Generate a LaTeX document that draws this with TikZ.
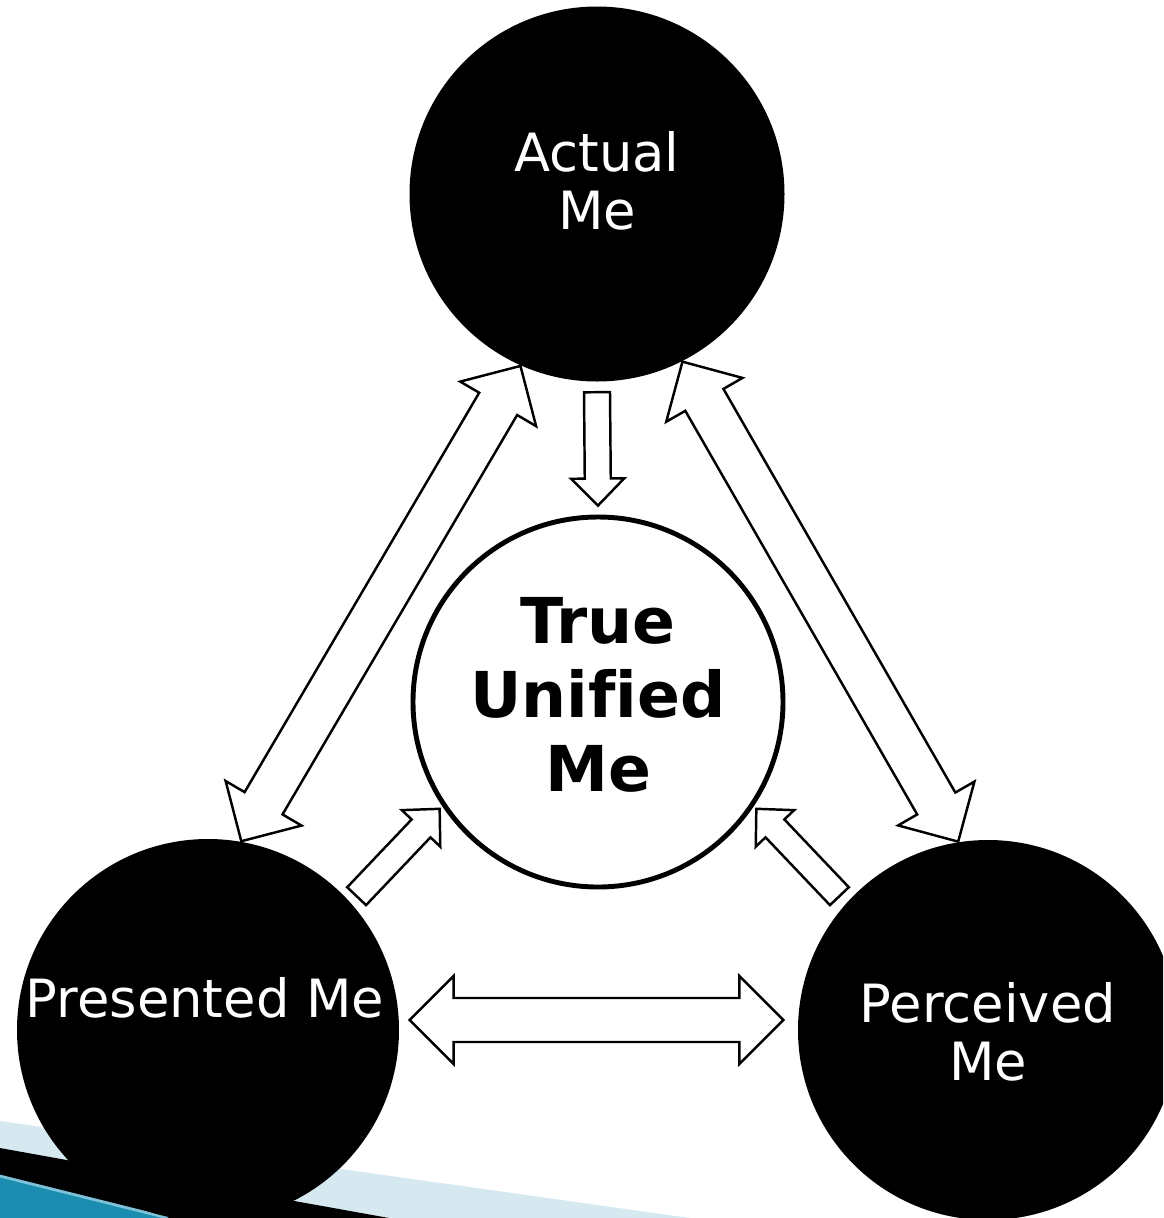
\documentclass[tikz,border=0pt]{standalone}
\usepackage{fontspec}
\setmainfont[Ligatures=NoCommon]{DejaVu Sans}
\usepackage{xcolor}
\usepackage{tikz}
\usetikzlibrary{calc}

\definecolor{swooshlight}{HTML}{D6E9F1}
\definecolor{swooshteal}{HTML}{1C8DB0}
\definecolor{swooshedge}{HTML}{7CC2D8}

% outlined block arrows: #1 from, #2 to, #3 half shaft, #4 half head, #5 head length
\newcommand{\onewayarrow}[5]{%
  \path ($(#2)!#5!(#1)$) coordinate (ah);
  \draw[blockarrow] ($(#1)!#3!90:(#2)$) -- ($(ah)!#3!-90:(#1)$) -- ($(ah)!#4!-90:(#1)$) -- (#2)
    -- ($(ah)!#4!90:(#1)$) -- ($(ah)!#3!90:(#1)$) -- ($(#1)!#3!-90:(#2)$) -- cycle;}
\newcommand{\twowayarrow}[5]{%
  \path ($(#1)!#5!(#2)$) coordinate (ah1) ($(#2)!#5!(#1)$) coordinate (ah2);
  \draw[blockarrow] (#1) -- ($(ah1)!#4!90:(#2)$) -- ($(ah1)!#3!90:(#2)$) -- ($(ah2)!#3!-90:(#1)$)
    -- ($(ah2)!#4!-90:(#1)$) -- (#2) -- ($(ah2)!#4!90:(#1)$) -- ($(ah2)!#3!90:(#1)$)
    -- ($(ah1)!#3!-90:(#2)$) -- ($(ah1)!#4!-90:(#2)$) -- cycle;}

\begin{document}
\begin{tikzpicture}[
    disc/.style={circle, fill=black, inner sep=0pt},
    blockarrow/.style={draw=black, fill=white, line width=0.7pt, line join=miter},
    lbl/.style={text=white, align=center, font=\fontsize{15}{16.5}\selectfont},
  ]
  \useasboundingbox (0,0) rectangle (11.63,-12.18);
  \clip (0,0) rectangle (11.63,-12.18);
  % template swoosh, lower left corner
  \fill[swooshlight] (0,-11.21) -- (6.90,-12.18) -- (3.89,-12.18) -- (0,-11.48) -- cycle;
  \fill[black] (0,-11.48) -- (3.89,-12.18) -- (1.68,-12.18) -- (0,-11.76) -- cycle;
  \fill[swooshteal] (0,-11.76) -- (1.68,-12.18) -- (0,-12.18) -- cycle;
  \draw[swooshedge, line width=0.8pt] (0,-11.76) -- (1.68,-12.18);
  % the four selves
  \node[disc, minimum size=3.75cm] (actual) at (5.97,-1.94) {};
  \node[disc, minimum size=3.82cm] (presented) at (2.08,-10.30) {};
  \node[disc, minimum size=3.80cm] (perceived) at (9.88,-10.30) {};
  \node[circle, draw=black, fill=white, line width=1.4pt, inner sep=0pt, minimum size=3.70cm] (unified) at (5.98,-7.02) {};
  \node[lbl] (actual-lbl) at ([yshift=0.13cm]actual.center) {Actual\\Me};
  \node[lbl] (presented-lbl) at ([shift={(-0.03,0.32)}]presented.center) {Presented Me};
  \node[lbl] (perceived-lbl) at ([yshift=-0.02cm]perceived.center) {Perceived\\Me};
  \node[align=center, font=\fontsize{18}{21}\selectfont\bfseries] (unified-lbl) at ([yshift=0.07cm]unified.center) {True\\Unified\\Me};
  % arrow ends
  \coordinate (pr-end) at ([shift={(0.10,0.10)}]presented.east);
  \coordinate (pe-end) at ([shift={(-0.14,0.10)}]perceived.west);
  \coordinate (ac-down) at ([yshift=-0.10cm]actual.south);
  \coordinate (un-top) at ([yshift=0.09cm]unified.north);
  \coordinate (pr-tail) at ($(presented)+(42:2.0)$);
  \coordinate (pe-tail) at ($(perceived)+(138:2.0)$);
  \coordinate (un-left) at ($(unified)+(214:1.91)$);
  \coordinate (un-right) at ($(unified)+(326:1.91)$);
  % big two-way arrows
  \twowayarrow{presented.80}{actual.246}{0.22cm}{0.44cm}{0.44cm}
  \twowayarrow{perceived.99}{actual.297}{0.22cm}{0.44cm}{0.44cm}
  \twowayarrow{pr-end}{pe-end}{0.22cm}{0.44cm}{0.44cm}
  % small arrows into the centre
  \onewayarrow{ac-down}{un-top}{0.13cm}{0.265cm}{0.27cm}
  \onewayarrow{pr-tail}{un-left}{0.13cm}{0.265cm}{0.27cm}
  \onewayarrow{pe-tail}{un-right}{0.13cm}{0.265cm}{0.27cm}
\end{tikzpicture}
\end{document}
